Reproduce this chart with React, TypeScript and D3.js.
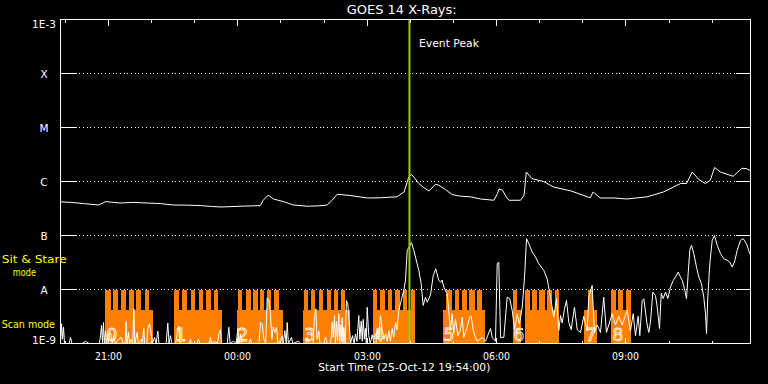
import React from "react";
import * as d3 from "d3";

const W = 768;
const H = 384;

const startTime = new Date(2012, 9, 25, 19, 54, 0);
const durationMin = 960;
const eventPeakMin = 485.5;

const levelValues = [1e-9, 1e-8, 1e-7, 1e-6, 1e-5, 1e-4, 1e-3];
const levelLabels = ["1E-9", "A", "B", "C", "M", "X", "1E-3"];

// GOES long channel (1-8 A), [minutes since start, W/m^2]
const longChannel: [number, number][] = [
  [0, 4.2e-7], [15, 4.1e-7], [32, 3.9e-7], [53, 3.67e-7], [63, 4.25e-7], [70, 4.15e-7],
  [83, 4.0e-7], [102, 4.1e-7], [120, 4.0e-7], [139, 3.9e-7], [157, 3.67e-7], [175, 3.65e-7],
  [195, 3.58e-7], [210, 3.45e-7], [223, 3.37e-7], [250, 3.48e-7], [270, 3.55e-7], [278, 3.58e-7],
  [282, 4.49e-7], [289, 5.6e-7], [296, 4.75e-7], [310, 4.25e-7], [324, 3.67e-7], [344, 3.48e-7],
  [360, 3.55e-7], [371, 3.67e-7], [378, 4.49e-7], [385, 5.8e-7], [403, 5.5e-7], [427, 4.95e-7],
  [445, 5.0e-7], [468, 5.2e-7], [478, 6.4e-7], [482.4, 9.8e-7], [484.6, 1.21e-6], [488, 1.36e-6],
  [491.6, 1.21e-6], [498.5, 9.2e-7], [505.5, 7.7e-7], [512.4, 6.7e-7], [514.8, 7.1e-7], [521.7, 8.9e-7],
  [526.3, 8.5e-7], [535.6, 7.1e-7], [545, 5.7e-7], [556.5, 5.35e-7], [570.4, 5.2e-7], [584.3, 4.75e-7],
  [603, 4.49e-7], [608, 6.0e-7], [610, 7.3e-7], [615, 6.9e-7], [620, 5.2e-7], [624, 4.49e-7],
  [640, 4.49e-7], [645, 5.56e-7], [648, 1.5e-6], [656, 1.13e-6], [672, 1.0e-6], [686, 7.9e-7],
  [710, 6.7e-7], [737, 5.0e-7], [741, 6.4e-7], [751, 4.95e-7], [770, 4.95e-7], [788, 4.75e-7],
  [816, 5.2e-7], [839, 6.4e-7], [853, 7.9e-7], [863, 9.2e-7], [871, 9.2e-7], [879, 1.5e-6],
  [888, 1.09e-6], [897, 9.2e-7], [904, 1.05e-6], [910, 1.82e-6], [918, 1.5e-6], [936, 1.25e-6],
  [948, 1.76e-6], [955, 1.72e-6], [960, 1.57e-6],
];

// GOES short channel (0.5-4 A), [minutes since start, W/m^2]
const shortChannel: [number, number][] = [
  [0, 1.0e-9], [1.4, 2.32e-9], [2.8, 1.2e-9], [4.2, 2.0e-9], [5.6, 1.0e-9],
  [12, 1.0e-9], [13.9, 1.3e-9], [16, 1.0e-9],
  [30, 1.0e-9], [34.8, 1.1e-9], [40, 1.0e-9],
  [54, 1.0e-9], [55.7, 1.4e-9], [57, 2.16e-9], [58.4, 1.0e-9], [59.8, 2.45e-9], [61, 1.0e-9], [62.6, 1.7e-9], [64, 1.0e-9],
  [66.8, 1.5e-9], [69.6, 1.6e-9], [72, 1.0e-9], [73.8, 1.4e-9], [76, 1.0e-9],
  [80.7, 1.2e-9], [84.9, 1.3e-9], [87, 1.0e-9],
  [90, 1.0e-9], [91.4, 2.55e-9], [92.5, 1.0e-9], [94.6, 1.6e-9], [96, 1.0e-9], [98.4, 1.2e-9], [100.5, 1.0e-9],
  [102, 4.4e-9], [103.4, 1.0e-9], [106.7, 1.6e-9], [108, 1.0e-9], [112.7, 1.2e-9], [114, 1.0e-9], [115.9, 1.9e-9], [117, 1.0e-9],
  [120, 1.0e-9], [121.5, 1.9e-9], [123.8, 2.32e-9], [126.2, 1.5e-9], [128, 1.0e-9], [130.8, 1.3e-9], [133, 1.0e-9], [135.4, 1.7e-9], [137, 1.0e-9],
  [147, 1.0e-9], [149.3, 2.4e-9], [151, 1.0e-9], [153, 1.4e-9], [155, 1.0e-9],
  [160, 1.0e-9], [162.4, 1.5e-9], [164.6, 2.1e-9], [166, 1.0e-9],
  [179, 1.0e-9], [180.9, 1.2e-9], [182, 1.0e-9], [190, 1.0e-9], [192, 1.2e-9], [194, 1.0e-9],
  [207, 1.0e-9], [208.7, 1.3e-9], [210, 1.0e-9], [214.3, 1.1e-9], [218.5, 1.0e-9], [220.2, 1.5e-9], [222.6, 1.8e-9], [224, 1.0e-9],
  [232, 1.0e-9], [234.2, 2.0e-9], [236, 1.0e-9], [240.7, 1.1e-9], [244.5, 1.0e-9], [246.7, 1.9e-9], [248.5, 1.0e-9], [250.4, 1.5e-9], [252, 1.0e-9],
  [262, 1.0e-9], [264.3, 1.2e-9], [266, 1.0e-9],
  [276, 1.0e-9], [278.3, 2.48e-9], [280.6, 2.3e-9], [283, 1.2e-9], [285.5, 1.0e-9], [287.6, 7.0e-9], [289.8, 6.27e-9],
  [292.2, 3.56e-9], [294, 1.2e-9], [295.9, 2.0e-9], [298.1, 1.6e-9], [300.5, 2.0e-9], [302.5, 1.0e-9], [305.1, 1.1e-9],
  [308.5, 1.4e-9], [310, 1.0e-9], [312.1, 1.74e-9], [314, 1.0e-9], [315.4, 2.45e-9], [317, 1.0e-9], [321.4, 1.3e-9],
  [323, 1.0e-9], [331.1, 1.1e-9], [333, 1.0e-9],
  [341, 1.0e-9], [343.2, 1.3e-9], [345, 1.0e-9],
  [351.5, 1.0e-9], [353.4, 3.07e-9], [355.2, 4.4e-9], [357, 1.2e-9], [359.4, 1.7e-9], [361, 1.0e-9], [366, 1.0e-9], [368.7, 1.3e-9], [371, 1.0e-9],
  [376, 1.0e-9], [378, 2.48e-9], [379.5, 1.3e-9], [381.2, 3.3e-9], [382.5, 1.0e-9], [384, 2.6e-9], [385.5, 1.1e-9],
  [387.2, 3.56e-9], [388.5, 1.0e-9], [389.6, 2.2e-9], [390.8, 1.1e-9], [391.9, 3.0e-9], [393, 1.0e-9], [394.2, 2.0e-9],
  [396, 1.0e-9], [397.9, 6.27e-9], [399.7, 5.45e-9], [401.7, 2.4e-9], [403.5, 1.0e-9], [406.3, 1.4e-9], [408.5, 1.0e-9],
  [410.4, 1.5e-9], [412.5, 1.1e-9], [415, 3.3e-9], [416.5, 1.2e-9], [418.4, 2.6e-9], [419.8, 1.1e-9], [421.2, 2.8e-9],
  [422.8, 1.2e-9], [424.3, 1.9e-9], [425.5, 1.0e-9], [426.7, 4.7e-9], [428.9, 1.4e-9], [431, 1.0e-9], [433.7, 1.45e-9], [436, 1.0e-9],
  [439, 1.0e-9], [440.6, 1.9e-9], [442.5, 1.2e-9], [445.2, 3.3e-9], [447.6, 1.8e-9], [450, 1.2e-9], [452.2, 1.5e-9],
  [454.5, 1.1e-9], [456.8, 1.7e-9], [459, 1.1e-9], [461.5, 1.9e-9], [463.5, 1.3e-9], [466.1, 2.45e-9], [468, 1.8e-9],
  [470.7, 4.09e-9], [474, 6.27e-9], [477.6, 9.6e-9], [480, 1.5e-8], [482.4, 5.3e-8], [488.3, 7.38e-8], [491.6, 5.3e-8],
  [498.5, 2.26e-8], [501.8, 1.28e-8], [504.6, 5.07e-9], [507.8, 7.2e-9], [510.2, 5.83e-9], [514.8, 7.9e-9], [518.5, 1.8e-8],
  [522.1, 2.43e-8], [526.3, 1.47e-8], [529, 1.37e-8], [531, 1.5e-8], [533.3, 1.11e-8], [537.9, 8.35e-9], [540.2, 4.09e-9],
  [542.6, 1.74e-9], [544.9, 3.56e-9], [547.2, 1.53e-9], [549.6, 2.8e-9], [552.8, 1.4e-9], [556.5, 1.8e-9], [558.9, 3.07e-9],
  [561.1, 1.3e-9], [565.8, 2.0e-9], [569.4, 3.07e-9], [571.4, 3.2e-9], [574.2, 1.8e-9], [576.4, 1.4e-9], [579.7, 1.1e-9],
  [586.7, 1.3e-9], [591.3, 1.1e-9], [598.3, 1.9e-9], [600.6, 1.3e-9], [605.2, 1.1e-9], [607.6, 3.0e-8], [609.8, 3.22e-8],
  [612.2, 1.3e-9], [616.8, 1.3e-9], [621.5, 7.22e-9], [625.1, 6.7e-9], [628.5, 4.09e-9], [631.7, 1.8e-9], [635.4, 3.46e-9],
  [638.6, 2.3e-9], [642.4, 4.71e-9], [645.6, 1.7e-8], [648.4, 8.75e-8], [651.6, 7.06e-8], [656.3, 4.93e-8], [660.9, 3.98e-8],
  [665.5, 3.0e-8], [672.4, 2.26e-8], [677.1, 1.58e-8], [681.7, 7.22e-9], [686.3, 3.07e-9], [690.1, 6.74e-9], [693.3, 1.74e-9],
  [695.7, 3.3e-9], [698, 2.4e-9], [701.2, 4.4e-9], [704, 6.27e-9], [707.2, 2.48e-9], [710.5, 1.8e-9], [715.1, 4.71e-9],
  [718.9, 1.8e-9], [723.5, 1.6e-9], [728.1, 3.2e-9], [732.8, 1.7e-9], [735, 7.22e-9], [739.7, 1.19e-8], [742.9, 1.6e-9],
  [746.7, 2.2e-9], [751.3, 1.6e-9], [755.8, 7.22e-9], [759.6, 1.6e-9], [762.8, 2.2e-9], [767.5, 3.56e-9], [772.1, 2.2e-9],
  [776.7, 3.2e-9], [781.5, 2.2e-9], [788.4, 4.09e-9], [793, 1.7e-9], [796.8, 3.56e-9], [800, 1.4e-9], [803.7, 3.2e-9],
  [806, 1.4e-9], [809.3, 6.27e-9], [811.6, 6.74e-9], [816.3, 2.2e-9], [818.5, 1.6e-9], [820.9, 2.6e-9], [824.1, 8.94e-9],
  [827.8, 7.77e-9], [830.2, 4.71e-9], [833.4, 1.9e-9], [835.8, 8.5e-9], [838.5, 6.8e-9], [841.7, 8.94e-9], [845, 6.8e-9],
  [848.7, 1.11e-8], [852.5, 1.47e-8], [855.6, 1.7e-8], [859.4, 2.1e-8], [861.6, 1.8e-8], [865, 1.47e-8], [868.2, 1.03e-8],
  [871, 6.74e-9], [873.3, 1.96e-8], [875.5, 5.3e-8], [877.9, 6.57e-8], [881.1, 4.61e-8], [884.9, 2.6e-8], [888.1, 1.7e-8],
  [891.8, 1.28e-8], [895, 7.22e-9], [897.4, 3.56e-9], [898.8, 1.53e-9], [900.6, 7.22e-9], [903.4, 3.0e-8], [906.7, 8.13e-8],
  [909.9, 1.0e-7], [913.7, 6.57e-8], [918.3, 4.61e-8], [922.9, 3.72e-8], [927.6, 3.46e-8], [931.2, 3.22e-8], [934.5, 2.6e-8],
  [937.7, 3.22e-8], [941.5, 5.3e-8], [946.1, 8.13e-8], [949.8, 8.75e-8], [954.4, 7.06e-8], [959, 4.61e-8], [960, 4.4e-8],
];

// Scan-mode blocks (minutes since start)
const scanBases: [number, number][] = [
  [62.6, 129.0], [158.6, 225.0], [244.9, 309.8], [337.7, 402.6], [434.1, 493.5],
  [531.5, 590.9], [628.9, 641.0], [645.6, 693.3], [729.0, 746.7], [766.6, 794.0],
];
// Sit & Stare intervals (minutes since start)
const stareTeeth: [number, number][] = [
  [62.6, 69.6], [73.3, 80.3], [84.4, 91.4], [95.6, 101.6], [105.7, 111.7], [116.9, 122.9],
  [158.6, 165.2], [169.7, 176.3], [180.9, 187.8], [192, 198], [202.2, 208.7], [213.3, 218.9],
  [246.3, 253.2], [258.3, 265.3], [268.5, 274.8], [277.5, 283.8], [287.2, 293.5], [296.9, 303.8],
  [338.1, 344.1], [348.8, 354.4], [359.4, 364.9], [370.1, 375.7], [380.3, 385.9], [390.5, 396.1],
  [434.1, 440.6], [445.2, 450.8], [455.4, 461.5], [465.7, 472], [476.2, 482.4], [487.4, 493.5],
  [537, 545], [548.2, 555.1], [558.9, 565.8], [569, 576], [580.1, 587.1],
  [628.9, 635.4],
  [645.6, 653], [656, 662.3], [666.4, 673.4], [676.8, 683.8], [688, 693.3],
  [734.6, 740.2],
  [766.6, 773.5], [776.3, 783.3], [787, 794],
];
const scanLabels = ["0", "1", "2", "3", "4", "5", "6", "7", "8"];
const scanLabelMin = [62.6, 158.6, 244.9, 337.7, 434.1, 531.5, 628.9, 729.0, 766.6];

const scanTop = 4.1e-9;   // base of block
const stareTop = 1e-8;    // top of teeth

const FONT = "'DejaVu Sans', 'Liberation Sans', sans-serif";
const NARROW = "'DejaVu Sans Condensed', 'Liberation Sans Narrow', 'DejaVu Sans', sans-serif";

export default function App() {
  const endTime = new Date(+startTime + durationMin * 60000);
  const x = d3.scaleLinear().domain([0, durationMin]).range([60.5, 750.5]);
  const xt = d3.scaleTime().domain([startTime, endTime]).range([60.5, 750.5]);
  const y = d3.scaleLog().domain([1e-9, 1e-3]).range([343.5, 19.5]).clamp(true);

  const line = d3
    .line<[number, number]>()
    .x((d) => x(d[0]))
    .y((d) => y(d[1]));

  const hours = xt.ticks(d3.timeHour.every(1));
  const fmt = d3.timeFormat("%H:%M");

  const x0 = x(0), x1 = x(durationMin);
  const yTop = y(1e-3), yBot = y(1e-9);

  return (
    <svg width={W} height={H} style={{ display: "block", position: "absolute", left: 0, top: 0, background: "#000" }}>
      <rect x={0} y={0} width={W} height={H} fill="#000" />

      {/* dotted grid */}
      {levelValues.slice(1, -1).map((v, i) => (
        <line key={"g" + i} x1={x0 + 15} x2={x1 - 15} y1={y(v)} y2={y(v)}
          stroke="#fff" strokeWidth={1} strokeDasharray="1 2.7" shapeRendering="crispEdges" />
      ))}

      {/* scan mode blocks */}
      <g fill="#ff8000" shapeRendering="crispEdges">
        {scanBases.map((b, i) => (
          <rect key={"b" + i} x={x(b[0])} width={x(b[1]) - x(b[0])} y={y(scanTop)} height={yBot - y(scanTop)} />
        ))}
        {stareTeeth.map((b, i) => (
          <rect key={"t" + i} x={x(b[0])} width={x(b[1]) - x(b[0])} y={y(stareTop)} height={yBot - y(stareTop)} />
        ))}
      </g>
      <g fontFamily={FONT} fontSize={17} fill="none" stroke="#fff" strokeWidth={0.8}>
        {scanLabels.map((s, i) => (
          <text key={"n" + i} x={x(scanLabelMin[i]) + 1} y={341}>{s}</text>
        ))}
      </g>

      {/* data */}
      <path d={line(shortChannel) || ""} fill="none" stroke="#fff" strokeWidth={1} />
      <path d={line(longChannel) || ""} fill="none" stroke="#fff" strokeWidth={1} />

      {/* event peak */}
      <line x1={x(eventPeakMin)} x2={x(eventPeakMin)} y1={yTop} y2={yBot} stroke="#99cc00" strokeWidth={2} />
      <text x={419} y={46.5} fill="#fff" fontFamily={FONT} fontSize={11} textLength={60} lengthAdjust="spacingAndGlyphs">Event Peak</text>

      {/* frame */}
      <rect x={x0} y={yTop} width={x1 - x0} height={yBot - yTop} fill="none" stroke="#fff" strokeWidth={1} shapeRendering="crispEdges" />

      {/* y ticks & labels */}
      {levelValues.map((v, i) => (
        <g key={"y" + i}>
          {i > 0 && i < levelValues.length - 1 && (
            <>
              <line x1={x0} x2={x0 + 15} y1={y(v)} y2={y(v)} stroke="#fff" shapeRendering="crispEdges" />
              <line x1={x1 - 15} x2={x1} y1={y(v)} y2={y(v)} stroke="#fff" shapeRendering="crispEdges" />
            </>
          )}
          <text x={44} y={y(v) + 4 + (i === 0 ? -3.5 : i === levelValues.length - 1 ? 4 : 0)} fill="#fff" fontFamily={FONT} fontSize={10.5} textAnchor="middle">
            {levelLabels[i]}
          </text>
        </g>
      ))}

      {/* x ticks */}
      {hours.map((h, i) => {
        const major = h.getHours() % 3 === 0;
        const len = major ? 6 : 3;
        const px = Math.round(xt(h)) + 0.5;
        return (
          <g key={"x" + i}>
            <line x1={px} x2={px} y1={yTop} y2={yTop + len} stroke="#fff" shapeRendering="crispEdges" />
            <line x1={px} x2={px} y1={yBot} y2={yBot - len} stroke="#fff" shapeRendering="crispEdges" />
            {major && (
              <text x={px} y={359.5} fill="#fff" fontFamily={FONT} fontSize={10.5} textAnchor="middle" textLength={27} lengthAdjust="spacingAndGlyphs">
                {fmt(h)}
              </text>
            )}
          </g>
        );
      })}

      {/* titles */}
      <text x={346.7} y={13.5} fill="#fff" fontFamily={FONT} fontSize={11.5} textLength={110} lengthAdjust="spacingAndGlyphs">GOES 14 X-Rays:</text>
      <text x={318.3} y={371} fill="#fff" fontFamily={FONT} fontSize={10.5} textLength={172} lengthAdjust="spacingAndGlyphs">
        Start Time (25-Oct-12 19:54:00)
      </text>

      {/* mode labels */}
      <g fill="#ffff00" fontFamily={NARROW} fontSize={11}>
        <text x={1.7} y={262.5} textLength={65} lengthAdjust="spacingAndGlyphs">Sit &amp; Stare</text>
        <text x={12.7} y={275.5} textLength={23.3} lengthAdjust="spacingAndGlyphs">mode</text>
        <text x={1.7} y={328} textLength={53.3} lengthAdjust="spacingAndGlyphs">Scan mode</text>
      </g>
    </svg>
  );
}
